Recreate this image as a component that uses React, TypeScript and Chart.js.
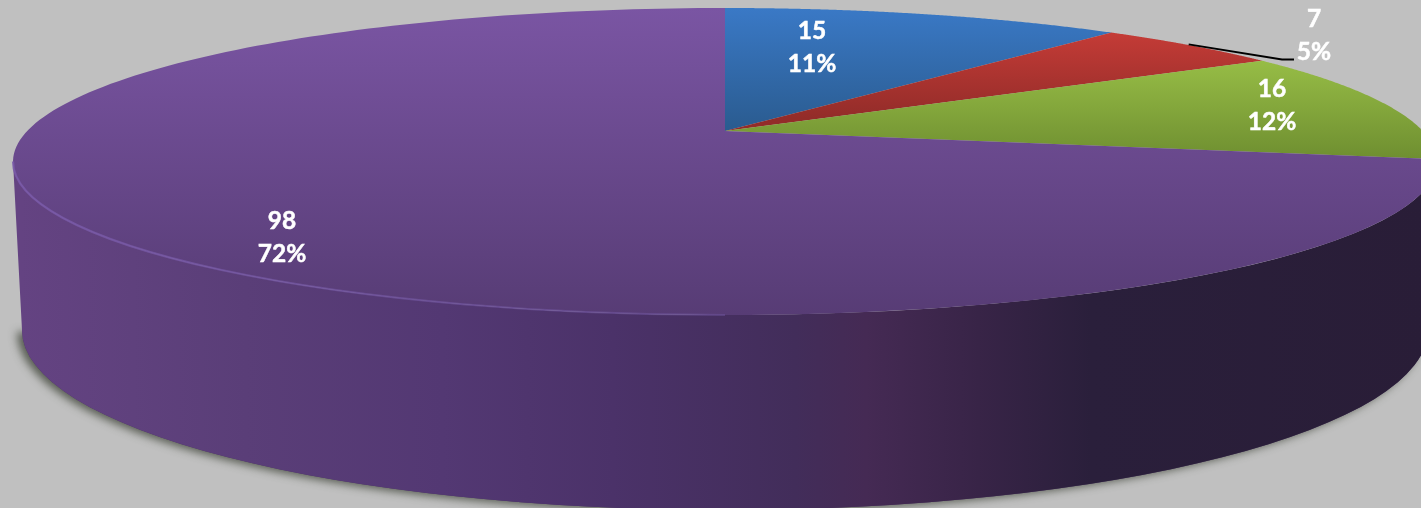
import React, { useEffect, useRef } from "react";
import { Chart, registerables } from "chart.js";

Chart.register(...registerables);

const categories = ["Segment 1", "Segment 2", "Segment 3", "Segment 4"];
const values = [15, 7, 16, 98];

const W = 1421;
const H = 508;
const BG = "#c0c0c0";

// Projection of the unit disc onto the tilted pie top
const CX = 725;
const APEX_Y = 131;
const P = -0.1987;
const KX = 697.8;
const KY = 121.41;
const project = (r: number, a: number): [number, number] => {
  const u = r * Math.cos(a);
  const v = r * Math.sin(a);
  const w = 1 + P * v;
  return [CX + (KX * u) / w, (APEX_Y + KY * v) / w];
};

const RIM = { cy: 161.5, rx: 712, ry: 153.5 };
const BASE = { cx: 725, cy: 330, rx: 703, ry: 180 };

const sliceStops: [number, number, string, string][] = [
  [8, 131, "#3a79c6", "#2a5b8f"],
  [30, 118, "#c63c37", "#932c29"],
  [60, 160, "#97bd46", "#6e8e30"],
  [8, 315, "#7a55a3", "#573c75"],
];

const wallStops: [number, string][] = [
  [0, "#644382"],
  [0.08, "#5f417d"],
  [0.16, "#5a3e78"],
  [0.3, "#533873"],
  [0.42, "#4b3269"],
  [0.55, "#422d5a"],
  [0.6, "#452a54"],
  [0.68, "#382447"],
  [0.76, "#2a1f3b"],
  [1, "#291d37"],
];

const labelAnchors: [number, number][] = [
  [812, 47],
  [1314, 35],
  [1272, 105],
  [282, 237],
];

const pie3d = {
  id: "pie3d",
  beforeDraw(chart: any) {
    const c = chart.ctx;
    c.save();
    c.fillStyle = BG;
    c.fillRect(0, 0, W, H);
    c.restore();
  },
  beforeDatasetsDraw(chart: any) {
    const c: CanvasRenderingContext2D = chart.ctx;
    const arcs = chart.getDatasetMeta(0).data;
    c.save();

    const wallPath = () => {
      c.beginPath();
      c.ellipse(CX, RIM.cy, RIM.rx, RIM.ry, 0, Math.PI, 0, true);
      c.lineTo(BASE.cx + BASE.rx, BASE.cy);
      c.ellipse(BASE.cx, BASE.cy, BASE.rx, BASE.ry, 0, 0, Math.PI, false);
      c.closePath();
    };

    // cast shadow
    c.save();
    c.shadowColor = "rgba(70,75,65,0.85)";
    c.shadowBlur = 9;
    c.shadowOffsetX = -5;
    c.shadowOffsetY = 2;
    c.fillStyle = "#4a3560";
    c.beginPath();
    c.ellipse(BASE.cx, BASE.cy, BASE.rx, BASE.ry, 0, 0, Math.PI, false);
    c.closePath();
    c.fill();
    c.restore();

    // side wall
    const wg = c.createLinearGradient(20, 0, 1430, 0);
    wallStops.forEach(([o, col]) => wg.addColorStop(o, col));
    wallPath();
    c.fillStyle = wg;
    c.fill();

    // slices, taken from the arc elements' angles
    arcs.forEach((arc: any, i: number) => {
      const [y0, y1, top, bottom] = sliceStops[i];
      const g = c.createLinearGradient(0, y0, 0, y1);
      g.addColorStop(0, top);
      g.addColorStop(1, bottom);
      c.beginPath();
      c.moveTo(...project(0, 0));
      const steps = 200;
      for (let s = 0; s <= steps; s++) {
        const a = arc.startAngle + ((arc.endAngle - arc.startAngle) * s) / steps;
        c.lineTo(...project(1, a));
      }
      c.closePath();
      c.fillStyle = g;
      c.fill();
    });

    // rim highlight along the front edge
    const rg = c.createLinearGradient(13, 0, 1000, 0);
    rg.addColorStop(0, "rgba(122,90,170,0.85)");
    rg.addColorStop(0.7, "rgba(112,86,160,0.5)");
    rg.addColorStop(1, "rgba(112,86,160,0)");
    c.beginPath();
    c.ellipse(CX, RIM.cy, RIM.rx, RIM.ry, 0, Math.PI, Math.PI / 2, true);
    c.strokeStyle = rg;
    c.lineWidth = 2.2;
    c.stroke();

    // leader line of the small slice
    const red = arcs[1];
    const mid = (red.startAngle + red.endAngle) / 2;
    const [lx, ly] = project(1, mid);
    c.beginPath();
    c.moveTo(lx - 2, ly - 1);
    c.lineTo(labelAnchors[1][0] - 32, labelAnchors[1][1] + 24.5);
    c.lineTo(labelAnchors[1][0] - 20, labelAnchors[1][1] + 24.5);
    c.strokeStyle = "#000000";
    c.lineWidth = 1.8;
    c.stroke();

    // data labels
    const total = values.reduce((a, b) => a + b, 0);
    c.fillStyle = "#ffffff";
    c.strokeStyle = "#ffffff";
    c.lineWidth = 0.5;
    c.font = 'bold 24.5px Lato, "Open Sans", sans-serif';
    c.textAlign = "center";
    c.textBaseline = "middle";
    values.forEach((v, i) => {
      const [x, y] = labelAnchors[i];
      const top = String(v);
      const pct = `${Math.round((v / total) * 100)}%`;
      c.fillText(top, x, y - 16);
      c.strokeText(top, x, y - 16);
      c.fillText(pct, x, y + 17);
      c.strokeText(pct, x, y + 17);
    });

    c.restore();
    return false;
  },
};

export default function App() {
  const ref = useRef<HTMLCanvasElement>(null);
  useEffect(() => {
    document.body.style.margin = "0";
    document.body.style.background = BG;
    const chart = new Chart(ref.current!, {
      type: "pie",
      data: {
        labels: categories,
        datasets: [{ data: values, borderWidth: 0 }],
      },
      options: {
        responsive: false,
        animation: false,
        plugins: { legend: { display: false }, tooltip: { enabled: false } },
      },
      plugins: [pie3d],
    } as any);
    return () => chart.destroy();
  }, []);
  return (
    <canvas
      ref={ref}
      width={W}
      height={H}
      style={{ display: "block", width: W, height: H }}
    />
  );
}
